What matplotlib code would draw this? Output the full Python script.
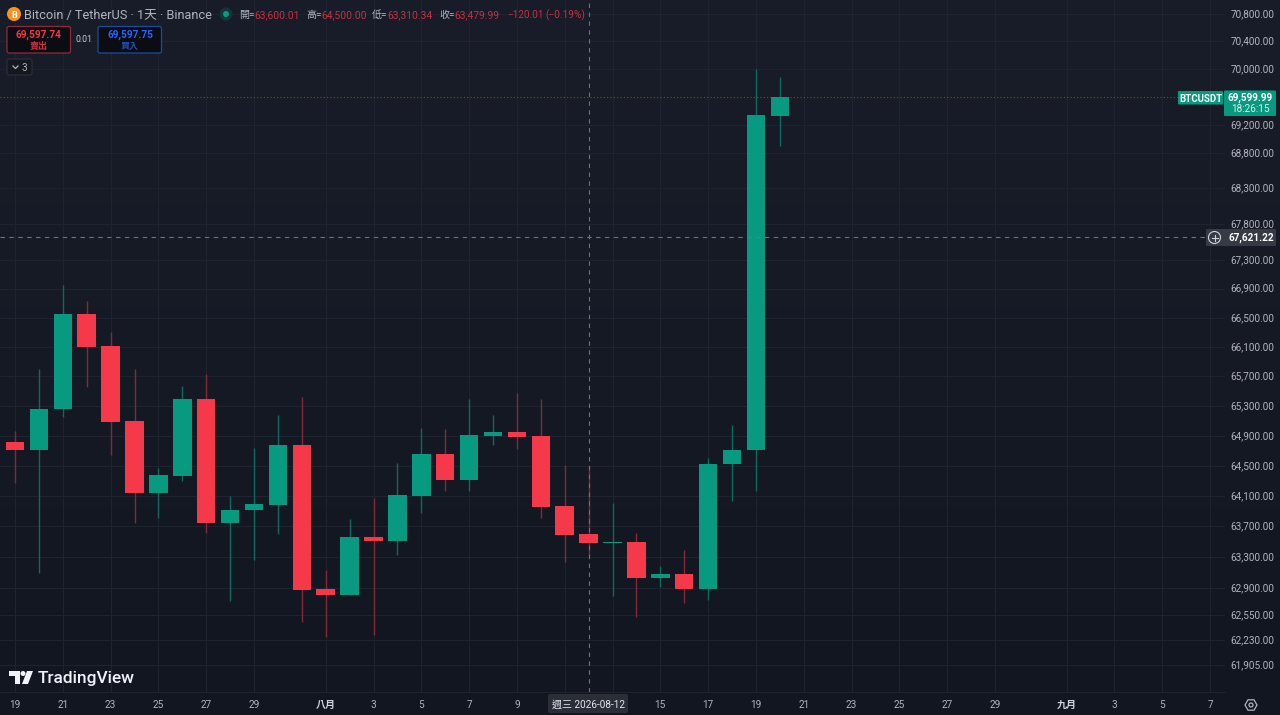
import numpy as np
import pandas as pd
import matplotlib
matplotlib.use("Agg")
import matplotlib.pyplot as plt
import matplotlib.dates as mdates
from matplotlib.patches import FancyBboxPatch, Circle, Polygon
from matplotlib.transforms import ScaledTranslation

plt.rcParams['font.family'] = ['Roboto', 'Noto Sans CJK TC', 'DejaVu Sans']

dates = pd.date_range("2026-07-19", periods=33)
opens = [64824, 64710, 65256, 66555, 66110, 65099, 64139, 64371, 65398, 63749, 63910,
         63977, 64776, 62883, 62809, 63567, 63507, 64104, 64660, 64313, 64904, 64954,
         64896, 63968, 63600.01, 63479.99, 63490, 63032, 63084, 62883, 64520, 64710, 69322]
highs = [64963, 65795, 66946, 66737, 66312, 65808, 64467, 65575, 65740, 64100, 64736,
         65180, 65417, 63137, 63792, 64078, 64542, 65011, 64990, 65394, 65181, 65474,
         65394, 64511, 64500.00, 64008, 63617, 63185, 63389, 64604, 65048, 69996, 69889]
lows = [64278, 63093, 65157, 65553, 64643, 63740, 63810, 64296, 63608, 62735, 63267,
        63595, 62460, 62268, 62800, 62294, 63320, 63872, 64170, 64170, 64776, 64727,
        63809, 63232, 63310.34, 62796, 62525, 62913, 62708, 62745, 64030, 64170, 68898]
closes = [64710, 65260, 66555, 66100, 65090, 64139, 64379, 65398, 63749, 63919, 63990,
          64776, 62874, 62809, 63567, 63507, 64113, 64660, 64313, 64913, 64954, 64887,
          63959, 63590, 63479.99, 63500, 63032, 63084, 62883, 64530, 64718, 69335, 69599.99]

price_ticks = [70800, 70400, 70000, 69200, 68800, 68300, 67800, 67300, 66900, 66500, 66100,
               65700, 65300, 64900, 64500, 64100, 63700, 63300, 62900, 62550, 62230, 61905]
tick_dates = pd.to_datetime(["2026-07-19", "2026-07-21", "2026-07-23", "2026-07-25", "2026-07-27",
                             "2026-07-29", "2026-08-01", "2026-08-03", "2026-08-05", "2026-08-07",
                             "2026-08-09", "2026-08-11", "2026-08-13", "2026-08-15", "2026-08-17",
                             "2026-08-19", "2026-08-21", "2026-08-23", "2026-08-25", "2026-08-27",
                             "2026-08-29", "2026-09-01", "2026-09-03", "2026-09-05", "2026-09-07"])
tick_labels = ["19", "21", "23", "25", "27", "29", "八月", "3", "5", "7", "9", "", "", "15", "17",
               "19", "21", "23", "25", "27", "29", "九月", "3", "5", "7"]

last_price = 69599.99
cross_price = 67621.22
cross_date = pd.Timestamp("2026-08-12")

UP = "#089981"
DOWN = "#f5384a"
UP_WICK = "#0b6b5e"
DOWN_WICK = "#82293a"
GRID = "#1f2330"
TEXT = "#b2b5be"

fig = plt.figure(figsize=(12.8, 7.15), dpi=100)

# background gradient
bg = fig.add_axes([0, 0, 1, 1], zorder=0)
grad = np.linspace(0, 1, 256).reshape(-1, 1)
top_c = np.array([25, 29, 41]) / 255
bot_c = np.array([18, 22, 32]) / 255
bg.imshow(top_c + (bot_c - top_c) * grad[:, :, None], aspect="auto", extent=[0, 1, 0, 1])
bg.axis("off")

# main chart
ax = fig.add_axes([0, 23 / 715, 1225 / 1280, 692 / 715], zorder=1)
ax.set_facecolor("none")
x = mdates.date2num(dates)
is_up = np.array(closes) >= np.array(opens)
body_lo = np.minimum(opens, closes)
body_hi = np.maximum(opens, closes)
wick_colors = [UP_WICK if u else DOWN_WICK for u in is_up]
body_colors = [UP if u else DOWN for u in is_up]
ax.vlines(x, lows, highs, colors=wick_colors, linewidth=1.0, zorder=3)
ax.bar(x, body_hi - body_lo, bottom=body_lo, width=0.77, color=body_colors, linewidth=0, zorder=4)

ax.set_yscale("log")
ax.set_ylim(61563, 71002)
x0 = x[0]
ax.set_xlim(x0 - 15 / 23.9, x0 + (1225 - 15) / 23.9)
ax.yaxis.tick_right()
ax.yaxis.set_major_locator(plt.FixedLocator(price_ticks))
ax.yaxis.set_minor_locator(plt.NullLocator())
ax.set_yticklabels([f"{p:,.2f}" for p in price_ticks])
ax.set_xticks(mdates.date2num(tick_dates))
ax.set_xticklabels(tick_labels)
ax.tick_params(axis="y", length=0, pad=4.2, labelsize=7.2, labelcolor=TEXT)
ax.tick_params(axis="x", length=0, pad=5.8, labelsize=7.2, labelcolor=TEXT)
shift_up = ScaledTranslation(0, 1 / 100, fig.dpi_scale_trans)
for lab in ax.get_yticklabels():
    lab.set_va("center_baseline")
    lab.set_transform(lab.get_transform() + shift_up)
for lab in ax.get_xticklabels():
    if lab.get_text() in ("八月", "九月"):
        lab.set_color("#d1d4dc")
        lab.set_fontweight("bold")
ax.grid(True, color=GRID, linewidth=0.8, zorder=0)
ax.set_axisbelow(True)
for side in ["top", "right", "left"]:
    ax.spines[side].set_visible(False)
ax.spines["bottom"].set_color(GRID)
ax.spines["bottom"].set_linewidth(0.8)

ax.axhline(last_price, color="#7a3d4e", linewidth=0.8, linestyle=(0, (1, 2)), zorder=2)
ax.axhline(cross_price, color="#70737d", linewidth=0.8, linestyle=(0, (4, 4)), zorder=5)
ax.axvline(mdates.date2num(cross_date), color="#70737d", linewidth=0.8, linestyle=(0, (4, 4)), zorder=5)

# overlay in pixel coordinates for the interface parts
ui = fig.add_axes([0, 0, 1, 1], zorder=2)
ui.set_xlim(0, 1280)
ui.set_ylim(715, 0)
ui.axis("off")


def label(px, py, s, color=TEXT, size=7.2, ha="left", weight="normal"):
    ui.text(px, py, s, color=color, fontsize=size, ha=ha, va="center_baseline",
            fontweight=weight, zorder=8)


def box(x1, y1, x2, y2, fc, ec="none", r=2, lw=0.9):
    ui.add_patch(FancyBboxPatch((x1 + r, y1 + r), x2 - x1 - 2 * r, y2 - y1 - 2 * r,
                                boxstyle=f"round,pad={r},rounding_size={r}",
                                fc=fc, ec=ec, lw=lw, zorder=6))


# title row
ui.add_patch(Circle((14, 14), 7, fc="#f7931a", ec="none"))
label(14, 14, "B", "#ffffff", 6.5, "center", "bold")
label(24, 14, "Bitcoin / TetherUS · 1天 · Binance", "#b2b5be", 9.2)
ui.add_patch(Circle((226, 14), 6.5, fc="#10363a", ec="none"))
ui.add_patch(Circle((226, 14), 3, fc=UP, ec="none"))
RED_TXT = "#c8303f"
for px, tag, val in [(239, "開", "63,600.01"), (306, "高", "64,500.00"),
                     (372, "低", "63,310.34"), (439, "收", "63,479.99")]:
    label(px, 14, tag + "=", TEXT, 7.2)
    label(px + 15, 14, val, RED_TXT, 7.4)
label(507, 14, "−120.01", RED_TXT, 7.2)
label(545, 14, "(−0.19%)", RED_TXT, 7.3)

# buy and sell
box(7, 26.5, 70.5, 53, "#0b0d13", "#8f2a38")
label(38.5, 34, "69,597.74", "#f23645", 7.3, "center", "bold")
label(38.5, 45, "賣出", "#d42f3e", 6.5, "center", "bold")
label(84, 39, "0.01", "#c4c6cd", 6.3, "center")
box(98, 26.5, 161.5, 53, "#0b0d13", "#1f4aa0")
label(130, 34, "69,597.75", "#2962ff", 7.3, "center", "bold")
label(130, 45, "買入", "#2450b8", 6.5, "center", "bold")
box(7, 59, 32, 75, "#15181f", "#2a2e39")
ui.plot([13, 15.5, 18], [66, 68.5, 66], color=TEXT, lw=0.9, zorder=8)
label(22, 67, "3", TEXT, 7.2)

# price axis labels
box(1178, 91, 1223, 104.5, UP, r=1)
label(1200.5, 98, "BTCUSDT", "#ffffff", 6.9, "center", "bold")
box(1224, 90.5, 1276, 116, UP, r=1)
label(1250, 96.5, "69,599.99", "#ffffff", 7.2, "center", "bold")
label(1250, 108.5, "18:26:15", "#d6efe9", 7.2, "center")

box(1206, 229, 1276, 246, "#363a45", r=1)
ui.add_patch(Circle((1214.5, 237.5), 6, fc="none", ec="#d1d4dc", lw=0.8, zorder=7))
ui.plot([1211.5, 1217.5], [237.5, 237.5], color="#d1d4dc", lw=0.8, zorder=7)
ui.plot([1214.5, 1214.5], [234.5, 240.5], color="#d1d4dc", lw=0.8, zorder=7)
label(1251, 237, "67,621.22", "#ffffff", 7.2, "center", "bold")

# crosshair date
box(548, 694, 628, 713, "#2a2e39", r=2)
label(588, 704, "週三 2026-08-12", "#e6e7ea", 7.2, "center")

# settings icon
ang = np.deg2rad(np.arange(0, 360, 60))
ui.add_patch(Polygon(np.c_[1251 + 6 * np.cos(ang), 705 + 6 * np.sin(ang)], closed=True,
                     fc="none", ec=TEXT, lw=0.9))
ui.add_patch(Circle((1251, 705), 2, fc="none", ec=TEXT, lw=0.9))

# TradingView logo
ui.add_patch(Polygon([(9, 671), (20, 671), (20, 684), (15, 684), (15, 676), (9, 676)], closed=True,
                     fc="#f0f3fa", ec="none"))
ui.add_patch(Circle((23, 673.5), 2.5, fc="#f0f3fa", ec="none"))
ui.add_patch(Polygon([(27, 671), (33, 671), (28, 684), (22, 684)], closed=True, fc="#f0f3fa", ec="none"))
label(38, 677, "TradingView", "#f0f3fa", 12.4, "left", "medium")

fig.savefig("out.png", dpi=100, facecolor="#131722")
